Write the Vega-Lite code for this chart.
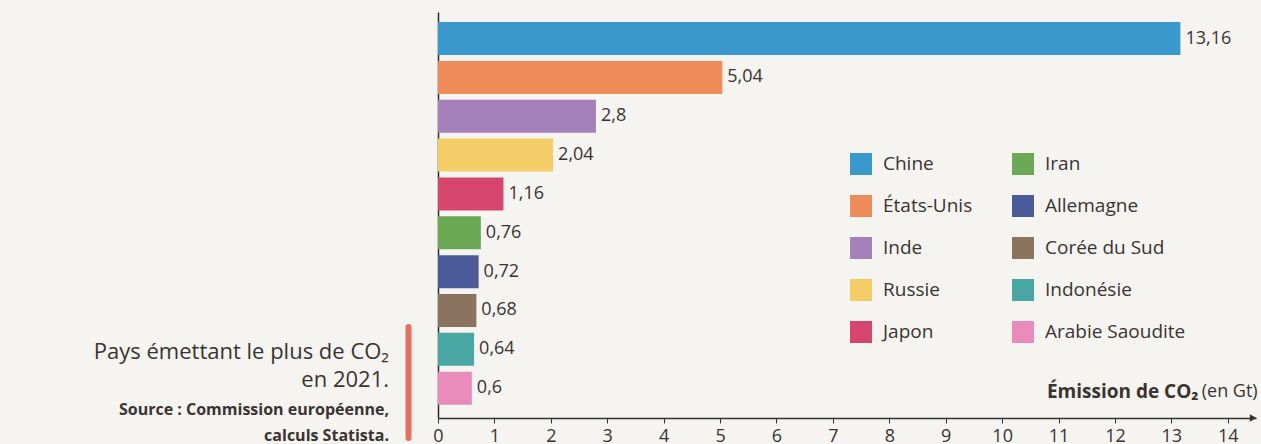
{
  "$schema": "https://vega.github.io/schema/vega-lite/v6.json",
  "width": 818,
  "height": 406,
  "autosize": {"type": "none"},
  "padding": {"left": 438, "top": 12, "right": 5, "bottom": 26},
  "background": "#f5f4f1",
  "config": {
    "view": {"stroke": null},
    "font": "Open Sans",
    "locale": {"number": {"decimal": ",", "thousands": " ", "grouping": [3], "currency": ["", " €"]}}
  },
  "title": {
    "text": ["Pays émettant le plus de CO₂", "en 2021."],
    "subtitle": ["Source : Commission européenne,", "calculs Statista."],
    "orient": "bottom",
    "anchor": "start",
    "align": "right",
    "frame": "group",
    "dx": -49,
    "dy": -107,
    "font": "Open Sans",
    "fontSize": 22,
    "fontWeight": "normal",
    "color": "#3a3330",
    "lineHeight": 28,
    "subtitleFont": "Open Sans",
    "subtitleFontSize": 16,
    "subtitleFontWeight": "bold",
    "subtitleColor": "#3a3330",
    "subtitleLineHeight": 26,
    "subtitlePadding": 10
  },
  "data": {
    "values": [
      {"pays": "Chine", "valeur": 13.16},
      {"pays": "États-Unis", "valeur": 5.04},
      {"pays": "Inde", "valeur": 2.8},
      {"pays": "Russie", "valeur": 2.04},
      {"pays": "Japon", "valeur": 1.16},
      {"pays": "Iran", "valeur": 0.76},
      {"pays": "Allemagne", "valeur": 0.72},
      {"pays": "Corée du Sud", "valeur": 0.68},
      {"pays": "Indonésie", "valeur": 0.64},
      {"pays": "Arabie Saoudite", "valeur": 0.6}
    ]
  },
  "layer": [
    {
      "encoding": {
        "y": {
          "field": "pays",
          "type": "nominal",
          "sort": "-x",
          "scale": {"paddingInner": 0.15, "paddingOuter": 0.3, "align": 0.43},
          "axis": {"labels": false, "ticks": false, "title": null, "domain": true, "domainColor": "#2a2a2a", "domainWidth": 1.5, "grid": false}
        },
        "x": {
          "field": "valeur",
          "type": "quantitative",
          "scale": {"domain": [0, 14.5], "nice": false},
          "axis": {
            "values": [0, 1, 2, 3, 4, 5, 6, 7, 8, 9, 10, 11, 12, 13, 14],
            "format": "d",
            "title": "Émission de CO₂",
            "titleFont": "Open Sans",
            "titleFontSize": 19,
            "titleFontWeight": "bold",
            "titleColor": "#3a3330",
            "titleAlign": "right",
            "titleX": 760,
            "titleY": -21,
            "titleBaseline": "alphabetic",
            "labelFont": "Open Sans",
            "labelFontSize": 18,
            "labelColor": "#3a3330",
            "labelPadding": 4,
            "labelFlush": false,
            "labelOverlap": false,
            "tickSize": 5,
            "tickColor": "#333333",
            "domainColor": "#333333",
            "domainWidth": 1.5,
            "grid": false
          }
        }
      },
      "layer": [
        {
          "mark": {"type": "bar"},
          "encoding": {
            "color": {
              "field": "pays",
              "type": "nominal",
              "scale": {
                "domain": ["Chine", "États-Unis", "Inde", "Russie", "Japon", "Iran", "Allemagne", "Corée du Sud", "Indonésie", "Arabie Saoudite"],
                "range": ["#3b98cc", "#ef8b58", "#a481b8", "#f5cd68", "#d6456d", "#6ba955", "#4b5a99", "#8a7460", "#4aa6a3", "#e98bbb"]
              },
              "legend": {
                "title": null,
                "orient": "none",
                "legendX": 412,
                "legendY": 141,
                "columns": 2,
                "symbolType": "square",
                "symbolSize": 484,
                "symbolStrokeWidth": 0,
                "symbolOpacity": 1,
                "labelFont": "Open Sans",
                "labelFontSize": 19,
                "labelColor": "#3a3330",
                "labelOffset": 11,
                "columnPadding": 39,
                "rowPadding": 20,
                "padding": 0
              }
            }
          }
        },
        {
          "mark": {"type": "text", "align": "left", "baseline": "middle", "dx": 5, "fontSize": 18, "font": "Open Sans", "color": "#3a3330"},
          "encoding": {
            "text": {"field": "valeur", "type": "quantitative", "format": ".2~f"}
          }
        }
      ]
    },
    {
      "data": {"values": [{}]},
      "mark": {"type": "rule", "strokeWidth": 6, "strokeCap": "round", "color": "#e2725f"},
      "encoding": {
        "x": {"datum": -0.523, "type": "quantitative"},
        "y": {"datum": 0.224, "type": "quantitative", "scale": {"domain": [0, 1], "nice": false, "zero": false}, "axis": null},
        "y2": {"datum": -0.049}
      }
    },
    {
      "data": {"values": [{}]},
      "mark": {"type": "point", "shape": "triangle-right", "filled": true, "size": 60, "color": "#333333", "opacity": 1},
      "encoding": {
        "x": {"datum": 14.45, "type": "quantitative"},
        "y": {"datum": 0, "type": "quantitative", "scale": {"domain": [0, 1], "nice": false}, "axis": null}
      }
    },
    {
      "data": {"values": [{}]},
      "mark": {"type": "text", "text": "(en Gt)", "align": "right", "baseline": "alphabetic", "fontSize": 18, "font": "Open Sans", "color": "#3a3330"},
      "encoding": {
        "x": {"datum": 14.53, "type": "quantitative"},
        "y": {"datum": 0.052, "type": "quantitative", "scale": {"domain": [0, 1], "nice": false}, "axis": null}
      }
    }
  ],
  "resolve": {"scale": {"y": "independent"}, "axis": {"y": "independent"}}
}
